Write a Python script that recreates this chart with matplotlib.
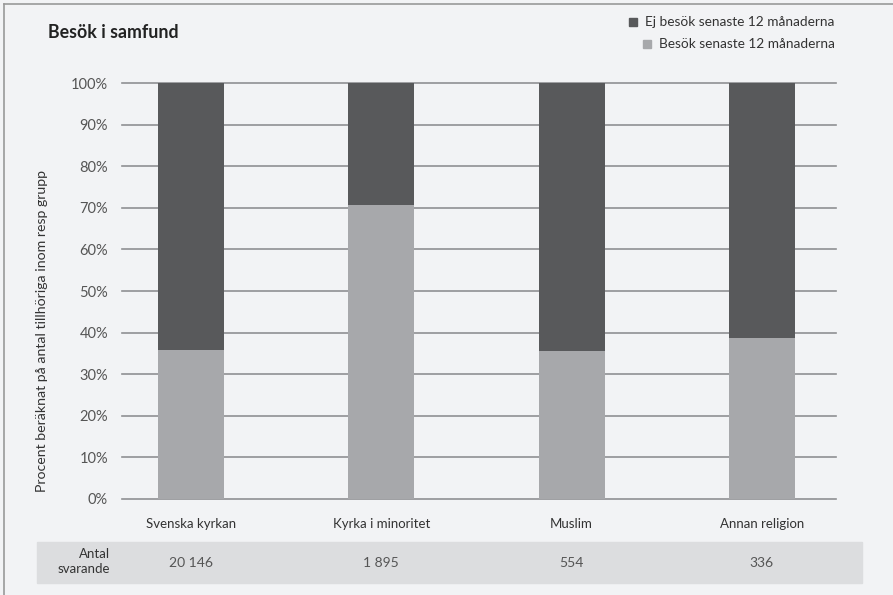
import numpy as np
import matplotlib.pyplot as plt
from matplotlib.patches import Rectangle

categories = ['Svenska kyrkan', 'Kyrka i minoritet', 'Muslim', 'Annan religion']
besok = [35.8, 70.7, 35.6, 38.7]
ej_besok = [64.2, 29.3, 64.4, 61.3]
antal = ['20 146', '1 895', '554', '336']
yticks = [0, 10, 20, 30, 40, 50, 60, 70, 80, 90, 100]

bg = '#f2f3f5'
dark = '#58595b'
light = '#a7a8ab'
txt = '#333333'
plt.rcParams['font.family'] = ['Lato', 'DejaVu Sans']

W, H = 893, 595
fig = plt.figure(figsize=(W / 100, H / 100), dpi=100, facecolor=bg)

# table band behind everything
fig.patches.append(Rectangle((37 / W, 1 - 583 / H), (862 - 37) / W, 41 / H,
                             color='#dcdddf', transform=fig.transFigure, zorder=-5))

ax = fig.add_axes([122 / W, 1 - 499 / H, 714 / W, 416 / H])
ax.set_facecolor('none')

x = np.arange(len(categories))
ax.bar(x, besok, width=0.347, color=light, zorder=3)
ax.bar(x, ej_besok, bottom=besok, width=0.347, color=dark, zorder=3)

for t in yticks:
    ax.axhline(t, color='#8f9093', lw=1.2, zorder=1, clip_on=False)

ax.set_xlim(-0.363, 3.39)
ax.set_ylim(0, 100)
for s in ax.spines.values():
    s.set_visible(False)
ax.set_yticks(yticks)
ax.set_yticklabels([f'{t}%' for t in yticks], fontsize=10.5, color='#555555')
ax.tick_params(axis='y', length=0, pad=10)
ax.set_xticks(x)
ax.set_xticklabels(categories, fontsize=9.5, color=txt)
ax.tick_params(axis='x', length=0, pad=14)
ax.set_ylabel('Procent beräknat på antal tillhöriga inom resp grupp', fontsize=10.2, color=txt)
ax.yaxis.set_label_coords(-(122 - 48) / 714, (499 - 331) / 416)

# title
fig.text(48 / W, 1 - 32 / H, 'Besök i samfund', fontsize=12.8, fontweight='bold',
         color='#222222', va='center', ha='left')

# legend
fig.patches.append(Rectangle((629 / W, 1 - 26 / H), 8 / W, 8 / H, color=dark,
                             transform=fig.transFigure))
fig.text(645 / W, 1 - 22 / H, 'Ej besök senaste 12 månaderna', fontsize=9.8,
         color=txt, va='center')
fig.patches.append(Rectangle((643 / W, 1 - 48 / H), 8 / W, 8 / H, color=light,
                             transform=fig.transFigure))
fig.text(659 / W, 1 - 44 / H, 'Besök senaste 12 månaderna', fontsize=9.8,
         color=txt, va='center')

fig.text(110 / W, 1 - 554 / H, 'Antal', fontsize=9.5, color=txt, ha='right', va='center')
fig.text(110 / W, 1 - 569 / H, 'svarande', fontsize=9.5, color=txt, ha='right', va='center')
row_y = -(563 - 499) / 416
for i, n in enumerate(antal):
    ax.text(x[i], row_y, n, transform=ax.get_xaxis_transform(), fontsize=10,
            color='#555555', ha='center', va='center', zorder=10)

# frame lines top and left
fig.add_artist(plt.Line2D([4 / W, 1], [1 - 4 / H, 1 - 4 / H], color='#999999', lw=1.2,
                          transform=fig.transFigure))
fig.add_artist(plt.Line2D([4 / W, 4 / W], [0, 1 - 4 / H], color='#999999', lw=1.2,
                          transform=fig.transFigure))

fig.savefig('out.png', dpi=100, facecolor=bg)
